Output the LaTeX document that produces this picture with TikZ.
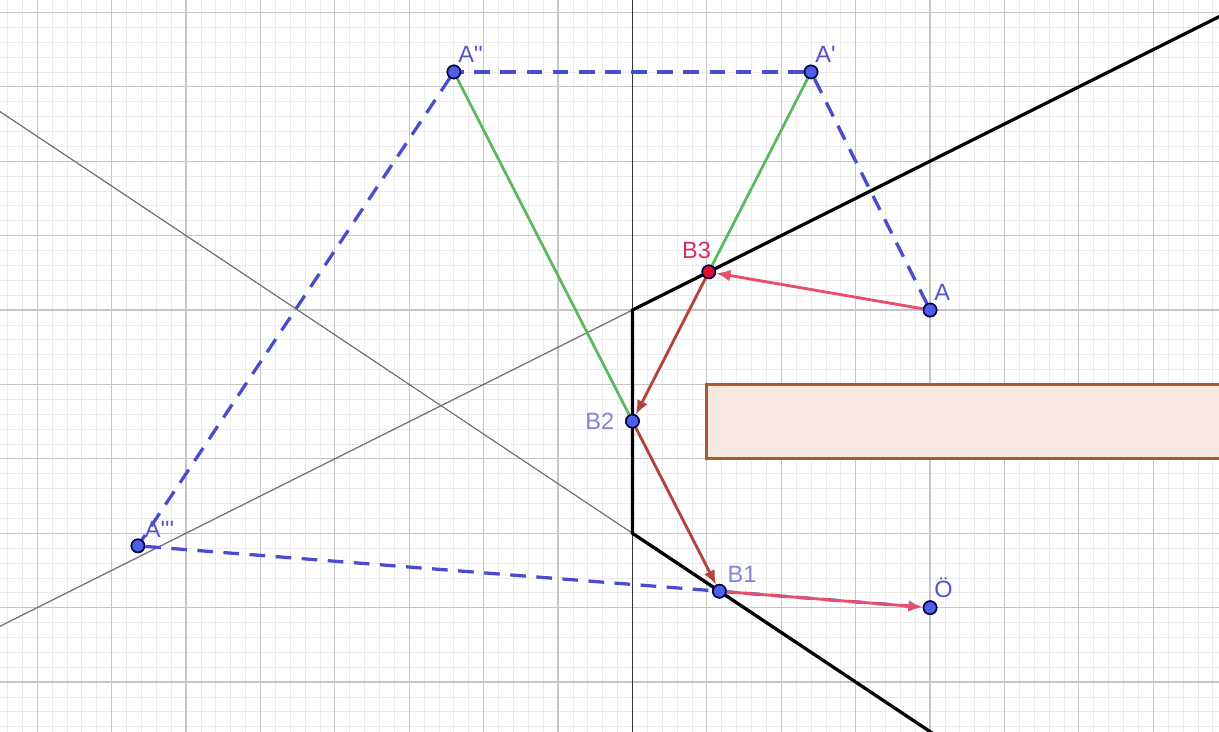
\documentclass[tikz,border=0pt]{standalone}
\usepackage{fontspec}
\setmainfont{Liberation Sans}
\usepackage{tikz}
\usetikzlibrary{arrows.meta,positioning,calc}
\definecolor{gridminor}{HTML}{EBEBEB}
\definecolor{gridmajor}{HTML}{C6C6C6}
\definecolor{mirrorgray}{HTML}{707070}
\definecolor{dashblue}{HTML}{4B4BCF}
\definecolor{raygreen}{HTML}{5CB85C}
\definecolor{raybrown}{HTML}{B4443A}
\definecolor{raypink}{HTML}{E8506A}
\definecolor{boxfill}{HTML}{F6E7DF}
\definecolor{boxedge}{HTML}{A85A30}
\definecolor{ptblue}{HTML}{5060E6}
\definecolor{ptred}{HTML}{E0102E}
\definecolor{lblblue}{HTML}{5252CC}
\definecolor{lbllav}{HTML}{8484D4}
\definecolor{lblred}{HTML}{D0305E}
\newcommand{\prm}{\textquotesingle}

\begin{document}
\begin{tikzpicture}[x=1cm,y=1cm,
  mirror/.style={line width=1.25pt, black},
  thinline/.style={line width=0.45pt, mirrorgray},
  dashray/.style={line width=1.25pt, dashblue, dash pattern=on 6pt off 4pt},
  greenray/.style={line width=1.05pt, raygreen},
  brownvec/.style={line width=1.1pt, raybrown, -{Latex[length=5.5pt,width=4.5pt]}},
  pinkvec/.style={line width=1.1pt, raypink, -{Latex[length=5.5pt,width=4.5pt]}},
  dot/.style={circle, draw=black!70!blue, line width=0.6pt, fill=ptblue, inner sep=0pt, minimum size=5pt},
  lbl/.style={font=\fontsize{9}{10}\selectfont, text=lblblue, inner sep=1pt}]
\useasboundingbox (-8.50,-5.659) rectangle (7.883,4.167);
\clip (-8.50,-5.659) rectangle (7.883,4.167);
% grid
\draw[gridminor, line width=0.3pt, step=0.2] (-9,-6) grid (9,5);
\draw[gridmajor, line width=0.45pt, step=1] (-9,-6) grid (9,5);
\draw[line width=0.45pt, black!80] (0,-6) -- (0,5);
% obstacle
\draw[boxedge, fill=boxfill, line width=1.1pt] (1,-1) rectangle (9,-2);
% mirrors
\coordinate (M0) at (0,0);
\coordinate (M1) at (8.2,4.1);
\coordinate (M2) at (0,-3);
\coordinate (M3) at (4.1,-5.733);
\coordinate (L1) at (-8.8,-4.4);
\coordinate (L2) at (-8.8,2.867);
\draw[thinline] (L1) -- (M0);
\draw[thinline] (L2) -- (M2);
\draw[mirror] (M1) -- (M0) -- (M2) -- (M3);
% points
\node[dot] (A) at (4,0) {};
\node[dot] (A1) at (2.4,3.2) {};
\node[dot] (A2) at (-2.4,3.2) {};
\node[dot] (A3) at (-6.64615,-3.16923) {};
\node[dot] (B1) at (1.16861,-3.77905) {};
\node[dot] (B2) at (0,-1.49363) {};
\node[dot, fill=ptred] (B3) at (1.02607,0.51304) {};
\node[dot] (O) at (4,-4) {};
% images
\draw[dashray] (A) -- (A1);
\draw[dashray] (A1) -- (A2);
\draw[dashray] (A2) -- (A3);
\draw[dashray] (A3) -- (O);
\draw[greenray] (A2) -- (B2);
\draw[greenray] (A1) -- (B3);
% path of the ray
\draw[pinkvec] (A) -- (B3);
\draw[brownvec] (B3) -- (B2);
\draw[brownvec] (B2) -- (B1);
\draw[pinkvec] (B1) -- (O);
% redraw dots on top
\foreach \p in {A,A1,A2,A3,B1,B2,O}
  \node[dot] at (\p) {};
\node[dot, fill=ptred] at (B3) {};
% labels
\node[lbl, above right=0.5pt and -1.5pt of A] {A};
\node[lbl, above right=0.5pt and -1.5pt of A1] {A\prm};
\node[lbl, above right=0.5pt and -1.5pt of A2] {A\prm\prm};
\node[lbl, above right=0pt and -0.5pt of A3] {A\prm\prm\prm};
\node[lbl, text=lbllav, above right=0pt and 0pt of B1] {B1};
\node[lbl, text=lbllav, left=3pt of B2] {B2};
\node[lbl, text=lblred, above left=2pt and -4pt of B3] {B3};
\node[lbl, above right=0.5pt and -1.5pt of O] {Ö};
\end{tikzpicture}
\end{document}
